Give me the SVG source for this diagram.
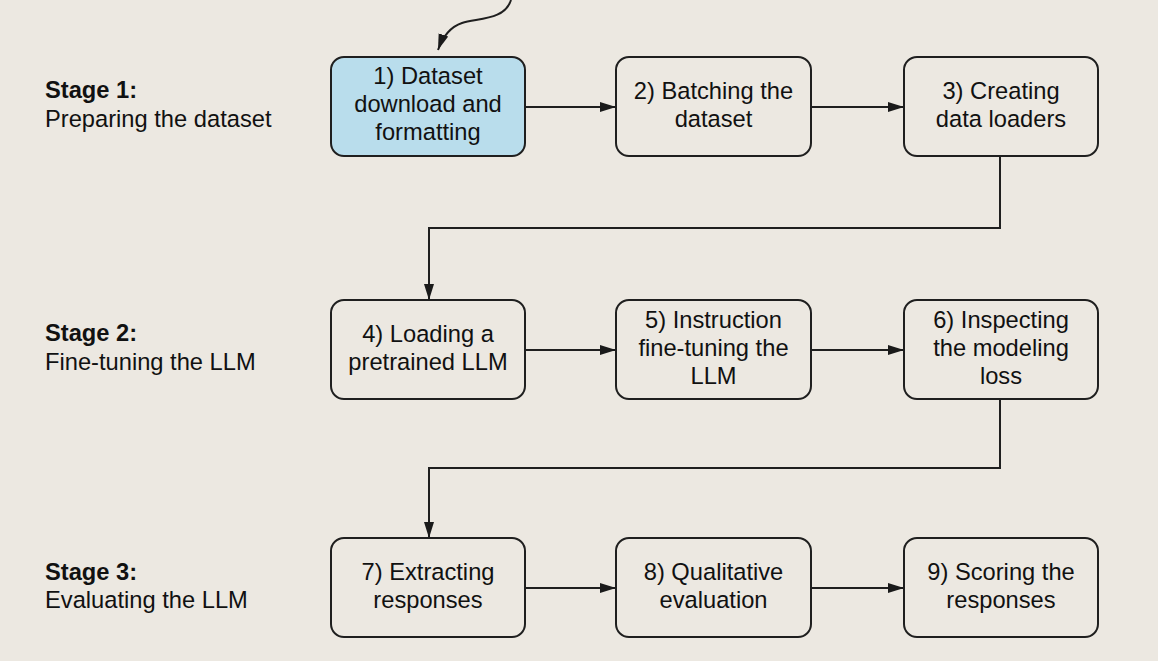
<svg xmlns="http://www.w3.org/2000/svg" width="1158" height="661" viewBox="0 0 1158 661">
<defs>
<marker id="ah" markerUnits="userSpaceOnUse" markerWidth="17" markerHeight="11" refX="16" refY="5" orient="auto">
<path d="M0,0 L16,5 L0,10 z" fill="#1a1a1a"/>
</marker>
<style>
.bg{fill:#ECE8E1}
.box{fill:#ECE8E1;stroke:#1f1f1f;stroke-width:2}
.hl{fill:#B9DDEC}
.t{font-family:"Liberation Sans",Arial,sans-serif;font-size:23.7px;fill:#111;text-anchor:middle}
.s{font-family:"Liberation Sans",Arial,sans-serif;font-size:23.7px;fill:#111}
.b{font-weight:bold}
.c{fill:none;stroke:#1f1f1f;stroke-width:2;marker-end:url(#ah)}
</style>
</defs>
<rect class="bg" x="0" y="0" width="1158" height="661"/>

<g id="stage1">
<text class="s b" x="45" y="98">Stage 1:</text>
<text class="s" x="45" y="127">Preparing the dataset</text>
</g>
<g id="stage2">
<text class="s b" x="45" y="341">Stage 2:</text>
<text class="s" x="45" y="370">Fine-tuning the LLM</text>
</g>
<g id="stage3">
<text class="s b" x="45" y="580">Stage 3:</text>
<text class="s" x="45" y="608">Evaluating the LLM</text>
</g>

<g id="connectors">
<path class="c" d="M511 0 C505 20, 478 18, 462 23 C450 27, 443 36, 438 50"/>
<path class="c" d="M525 107 H616"/>
<path class="c" d="M811 107 H904"/>
<path class="c" d="M1000 157 V228 H429 V300"/>
<path class="c" d="M525 350 H616"/>
<path class="c" d="M811 350 H904"/>
<path class="c" d="M1000 399 V468 H429 V538"/>
<path class="c" d="M525 588 H616"/>
<path class="c" d="M811 588 H904"/>
</g>

<g id="n1">
<rect class="box hl" x="331" y="57" width="194" height="99" rx="13"/>
<text class="t" x="428" y="84">1) Dataset</text>
<text class="t" x="428" y="112">download and</text>
<text class="t" x="428" y="140">formatting</text>
</g>
<g id="n2">
<rect class="box" x="616" y="57" width="195" height="99" rx="13"/>
<text class="t" x="713.5" y="99">2) Batching the</text>
<text class="t" x="713.5" y="127">dataset</text>
</g>
<g id="n3">
<rect class="box" x="904" y="57" width="194" height="99" rx="13"/>
<text class="t" x="1001" y="99">3) Creating</text>
<text class="t" x="1001" y="127">data loaders</text>
</g>

<g id="n4">
<rect class="box" x="331" y="300" width="194" height="99" rx="13"/>
<text class="t" x="428" y="342">4) Loading a</text>
<text class="t" x="428" y="370">pretrained LLM</text>
</g>
<g id="n5">
<rect class="box" x="616" y="300" width="195" height="99" rx="13"/>
<text class="t" x="713.5" y="328">5) Instruction</text>
<text class="t" x="713.5" y="356">fine-tuning the</text>
<text class="t" x="713.5" y="384">LLM</text>
</g>
<g id="n6">
<rect class="box" x="904" y="300" width="194" height="99" rx="13"/>
<text class="t" x="1001" y="328">6) Inspecting</text>
<text class="t" x="1001" y="356">the modeling</text>
<text class="t" x="1001" y="384">loss</text>
</g>

<g id="n7">
<rect class="box" x="331" y="538" width="194" height="99" rx="13"/>
<text class="t" x="428" y="580">7) Extracting</text>
<text class="t" x="428" y="608">responses</text>
</g>
<g id="n8">
<rect class="box" x="616" y="538" width="195" height="99" rx="13"/>
<text class="t" x="713.5" y="580">8) Qualitative</text>
<text class="t" x="713.5" y="608">evaluation</text>
</g>
<g id="n9">
<rect class="box" x="904" y="538" width="194" height="99" rx="13"/>
<text class="t" x="1001" y="580">9) Scoring the</text>
<text class="t" x="1001" y="608">responses</text>
</g>
</svg>
